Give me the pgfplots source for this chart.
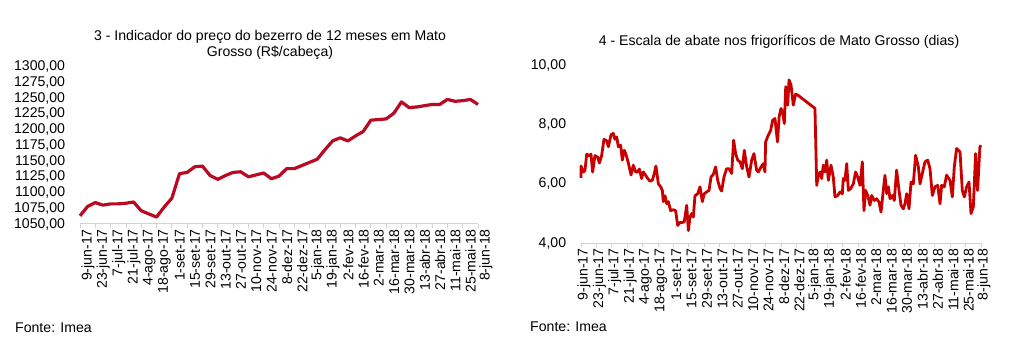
\documentclass[border=0pt]{standalone}
\usepackage{fontspec}
\setmainfont{Liberation Sans}
\usepackage{pgfplots}
\pgfplotsset{compat=1.18}
\definecolor{lred}{RGB}{185,10,35}
\definecolor{rred}{RGB}{200,0,0}
\newcommand{\tf}{\fontsize{14.1}{16.5}\selectfont}
\pgfplotsset{
  mystyle/.style={
    scale only axis,
    axis x line*=bottom, axis y line*=left,
    y axis line style={draw=none},
    x axis line style={draw=gray!35, line width=1pt, -},
    xmin=0, xmax=364,
    xtick={0,14,...,364},
    xticklabels={9-jun-17,23-jun-17,7-jul-17,21-jul-17,4-ago-17,18-ago-17,1-set-17,15-set-17,29-set-17,13-out-17,27-out-17,10-nov-17,24-nov-17,8-dez-17,22-dez-17,5-jan-18,19-jan-18,2-fev-18,16-fev-18,2-mar-18,16-mar-18,30-mar-18,13-abr-18,27-abr-18,11-mai-18,25-mai-18,8-jun-18},
    xticklabel style={rotate=90, anchor=east, font=\tf, inner sep=1pt},
    yticklabel style={font=\tf, xshift=-6pt},
    xtick style={draw=gray!35, line width=0.8pt},
    ytick style={draw=none},
    tick align=outside, major tick length=4pt,
    scaled y ticks=false,
    yticklabel={\pgfmathprintnumber[fixed,fixed zerofill,precision=2,use comma,1000 sep={},assume math mode=true]{\tick}},
    clip=false,
  }
}
\begin{document}
\tf
\begin{tikzpicture}[x=1pt,y=1pt]
\useasboundingbox (0,0) rectangle (1012,356);
\node[align=center, font=\tf, inner sep=0pt] at (270,{356-45}) {3 - Indicador do preço do bezerro de 12 meses em Mato\\Grosso (R\$/cabeça)};
\node[font=\tf, anchor=west, inner sep=0pt] at (15,{356-328}) {Fonte: Imea};
\node[font=\tf, inner sep=0pt] at (779,{356-42}) {4 - Escala de abate nos frigoríficos de Mato Grosso (dias)};
\node[font=\tf, anchor=west, inner sep=0pt] at (530,{356-327}) {Fonte: Imea};
\begin{axis}[mystyle, at={(80pt,132pt)}, anchor=south west, width=398pt, height=157.3pt,
  ymin=1050, ymax=1300, ytick={1050,1075,...,1300}, xticklabel style={yshift=-8pt}]
\addplot[lred, line width=3.2pt, line join=round] coordinates {
(0,1063)(7,1078)(14,1084)(21,1080)(28,1082)(35,1082)(42,1083)(49,1085)(56,1071)(63,1066)
(70,1061)(77,1077)(84,1091)(91,1130)(98,1132)(105,1141)(112,1142)(119,1127)(126,1121)(133,1127)
(140,1132)(147,1133)(154,1125)(161,1128)(168,1131)(175,1122)(182,1126)(189,1138)(196,1138)(203,1143)
(210,1148)(217,1153)(224,1168)(231,1182)(238,1187)(245,1182)(252,1190)(259,1197)(266,1215)(273,1216)
(280,1217)(287,1226)(294,1244)(301,1235)(308,1236)(315,1238)(322,1240)(329,1240)(336,1248)(343,1245)
(350,1246)(357,1248)(364,1240)};
\end{axis}
\begin{axis}[mystyle, at={(581pt,112.7pt)}, anchor=south west, width=400pt, height=178.3pt,
  ymin=4, ymax=10, ytick={4,6,8,10}, xticklabel style={yshift=-3pt}]
\addplot[rred, line width=2.8pt, line join=round] coordinates {
(0,6.2)(0,6.6)(2.1,6.4)(3.6,6.45)(5.2,7.0)(7.3,6.95)(9.1,7.0)(10.6,6.4)(12.7,6.95)(15.2,6.9)(16.7,6.7)
(18.8,6.95)(20.9,7.5)(23.4,7.45)(24.9,7.25)(27.3,7.65)(29.4,7.7)(30.9,7.5)(32.5,7.58)(34.0,7.25)
(36.1,7.3)(37.6,6.8)(39.4,7.13)(40.9,7.0)(43.1,6.7)(45.5,6.3)(47.6,6.63)(49.7,6.4)(51.6,6.4)
(53.1,6.5)(55.2,6.18)(56.7,6.4)(58.8,6.29)(60.7,6.18)(62.8,6.09)(64.9,6.12)(66.7,6.35)(68.2,6.6)
(70.4,6.0)(72.5,5.9)(74.0,5.78)(74.9,5.4)(76.4,5.6)(78.0,5.33)(79.5,5.4)(81.6,5.1)(84.0,5.13)
(86.1,5.1)(88.0,4.6)(90.1,4.7)(92.2,4.7)(94.0,4.73)(96.2,5.28)(97.7,4.43)(99.2,4.88)(100.7,5.0)
(102.2,4.88)(103.7,5.6)(106.2,5.67)(108.3,5.9)(110.4,5.4)(112.2,5.67)(114.4,5.73)(116.5,5.78)
(118.3,6.23)(120.4,6.32)(122.5,6.57)(124.4,6.12)(126.5,5.84)(128.0,5.76)(130.1,6.23)(132.5,6.51)
(134.7,6.51)(137.1,6.35)(138.9,7.47)(140.7,7.02)(142.6,6.8)(144.7,6.74)(146.8,6.51)(148.6,7.13)
(150.8,6.57)(152.9,6.23)(155.3,6.8)(157.4,7.02)(159.8,6.46)(161.4,6.4)(163.8,6.57)(165.9,6.68)
(167.4,6.4)(168.0,7.41)(170.4,7.64)(172.6,7.8)(174.4,8.14)(176.5,8.2)(178.8,7.41)(180.3,8.26)
(182.0,8.54)(183.6,8.37)(185.0,8.03)(186.3,9.27)(188.1,8.65)(189.3,9.5)(191.1,9.33)(193.2,8.65)
(195.3,9.02)(197.2,8.99)(212.9,8.54)(214.5,5.95)(216.0,6.29)(217.5,6.4)(219.0,6.18)(220.5,6.63)
(222.0,6.4)(223.6,6.8)(225.1,6.12)(227.5,6.63)(229.6,6.23)(231.1,5.56)(233.6,5.61)(235.7,5.73)
(237.8,5.67)(238.7,6.18)(240.2,6.12)(241.8,6.68)(243.3,5.78)(245.4,5.84)(247.8,6.0)(249.9,6.4)
(251.8,6.23)(253.9,5.95)(256.0,6.74)(257.5,5.1)(259.0,5.78)(260.9,5.61)(263.0,5.28)(264.5,5.61)
(266.9,5.44)(269.0,5.5)(271.2,5.39)(273.0,5.05)(275.1,5.78)(276.6,6.29)(278.2,5.67)(279.7,5.9)
(281.2,5.5)(283.3,5.61)(285.1,5.44)(287.2,6.46)(289.4,5.78)(291.2,5.28)(293.3,5.16)(294.8,5.33)
(296.4,5.67)(298.5,5.16)(300.3,6.06)(302.4,6.0)(304.5,6.96)(307.0,6.57)(308.5,6.0)(310.6,6.35)
(313.0,6.74)(315.5,6.8)(317.6,6.51)(319.7,5.61)(322.1,5.9)(324.6,5.95)(326.7,5.33)(328.2,5.95)
(330.6,5.9)(332.7,6.29)(335.8,6.12)(337.9,5.56)(339.7,6.57)(341.8,7.19)(344.9,7.08)(347.0,5.78)
(348.8,5.56)(350.9,5.9)(353.1,6.06)(354.9,5.0)(357.0,5.22)(359.1,7.02)(360.9,5.78)(363.0,7.24)(364.0,7.3)};
\end{axis}
\end{tikzpicture}
\end{document}
